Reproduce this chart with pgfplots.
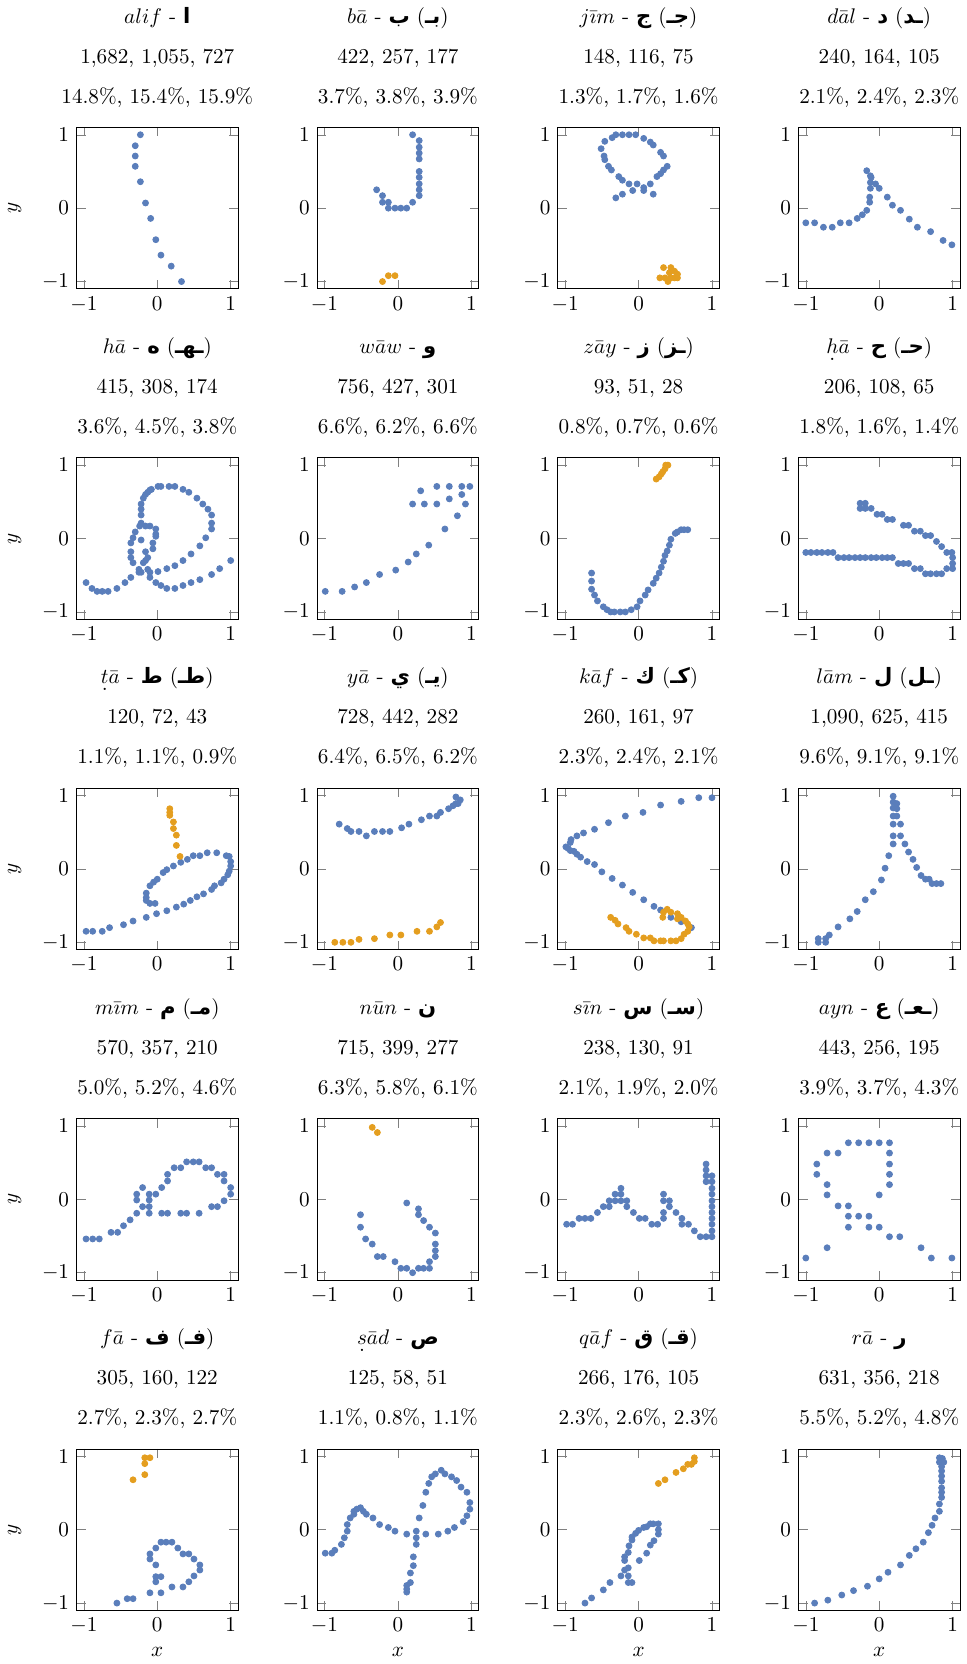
\documentclass[border={0.4pt 0pt 0pt 0pt}]{standalone}
\usepackage{fontspec}
\usepackage{pgfplots}
\pgfplotsset{compat=1.18}
\usepgfplotslibrary{groupplots}
\TeXXeTstate=1
\newfontfamily\ar[Script=Arabic]{DejaVu Sans}
\newcommand{\A}[1]{{\ar\bfseries\beginR #1\endR}}
\newcommand{\ud}[1]{\ooalign{$#1$\cr\hidewidth\smash{\raisebox{-0.75ex}{.}}\hidewidth\cr}}
\definecolor{cb}{HTML}{5A7EBB}
\definecolor{co}{HTML}{E49E1F}
\pgfplotsset{
  B/.style={only marks, mark=*, mark size=1.4pt, color=cb},
  O/.style={only marks, mark=*, mark size=1.4pt, color=co},
}
\newcommand{\T}[3]{#1\\[6.9pt]#2\\[6.9pt]#3}
\begin{document}
\begin{tikzpicture}
\begin{groupplot}[
  group style={group size=4 by 5, horizontal sep=37.4pt, vertical sep=79.8pt,
    xlabels at=edge bottom, ylabels at=edge left},
  width=76.3pt, height=76.3pt, scale only axis,
  xmin=-1.1, xmax=1.1, ymin=-1.1, ymax=1.1,
  xtick={-1,0,1}, ytick={-1,0,1},
  xlabel={$x$}, ylabel={$y$}, ylabel shift=3pt,
  title style={align=center},
]
% alif
\nextgroupplot[title={\T{$alif$ - \A{ا}}{1,682, 1,055, 727}{14.8\%, 15.4\%, 15.9\%}}]
\addplot[B] coordinates {(-0.23,1.0) (-0.30,0.85) (-0.30,0.71) (-0.30,0.57) (-0.23,0.36) (-0.16,0.07) (-0.09,-0.14) (-0.02,-0.43) (0.05,-0.64) (0.19,-0.79) (0.33,-1.0)};
% ba
\nextgroupplot[title={\T{$b\bar{a}$ - \A{ب} (\A{بـ})}{422, 257, 177}{3.7\%, 3.8\%, 3.9\%}}]
\addplot[B] coordinates {(0.20,1.0) (0.29,0.92) (0.29,0.83) (0.29,0.75) (0.29,0.67) (0.29,0.50) (0.29,0.42) (0.29,0.33) (0.29,0.25) (0.29,0.17) (0.20,0.08) (0.12,0.0) (0.04,0.0) (-0.04,0.0) (-0.13,0.0) (-0.13,0.08) (-0.21,0.08) (-0.21,0.17) (-0.29,0.25)};
\addplot[O] coordinates {(-0.21,-1.0) (-0.13,-0.92) (-0.04,-0.92)};
% jim
\nextgroupplot[title={\T{$j\bar{\imath}m$ - \A{ج} (\A{جـ})}{148, 116, 75}{1.3\%, 1.7\%, 1.6\%}}]
\addplot[B] coordinates {(-0.36,0.96) (-0.31,1.0) (-0.22,1.0) (-0.13,1.0) (-0.04,1.0) (0.07,0.95) (0.16,0.90) (0.20,0.86) (-0.46,0.91) (-0.51,0.81) (-0.47,0.71) (-0.46,0.66) (-0.41,0.57) (-0.37,0.52) (-0.27,0.43) (-0.22,0.38) (-0.13,0.33) (0.30,0.76) (0.34,0.71) (0.39,0.57) (0.34,0.52) (0.30,0.47) (0.25,0.43) (0.16,0.33) (-0.02,0.33) (0.07,0.28) (0.07,0.24) (0.20,0.19) (-0.08,0.24) (-0.22,0.19) (-0.31,0.14)};
\addplot[O] coordinates {(0.34,-0.81) (0.44,-0.81) (0.49,-0.86) (0.53,-0.90) (0.53,-0.95) (0.44,-0.95) (0.36,-0.95) (0.29,-0.95) (0.40,-1.0) (0.49,-0.95) (0.42,-0.88)};
% dal
\nextgroupplot[title={\T{$d\bar{a}l$ - \A{د} (\A{ـد})}{240, 164, 105}{2.1\%, 2.4\%, 2.3\%}}]
\addplot[B] coordinates {(-1.0,-0.20) (-0.88,-0.20) (-0.76,-0.26) (-0.64,-0.26) (-0.53,-0.20) (-0.41,-0.20) (-0.30,-0.14) (-0.23,-0.09) (-0.17,-0.03) (-0.13,0.08) (-0.13,0.15) (-0.12,0.27) (-0.12,0.35) (-0.11,0.42) (-0.17,0.51) (-0.12,0.44) (-0.05,0.33) (0.0,0.27) (0.11,0.15) (0.18,0.04) (0.29,-0.03) (0.41,-0.15) (0.52,-0.26) (0.70,-0.32) (0.87,-0.44) (0.99,-0.50)};
% ha
\nextgroupplot[title={\T{$h\bar{a}$ - \A{ه} (\A{ـهـ})}{415, 308, 174}{3.6\%, 4.5\%, 3.8\%}}]
\addplot[B] coordinates {(-0.97,-0.60) (-0.89,-0.68) (-0.82,-0.72) (-0.75,-0.72) (-0.67,-0.72) (-0.55,-0.68) (-0.44,-0.60) (-0.36,-0.53)
(-0.10,-0.53) (-0.02,-0.60) (0.05,-0.64) (0.13,-0.68) (0.24,-0.68) (0.35,-0.64) (0.46,-0.60) (0.58,-0.56) (0.74,-0.49) (0.85,-0.41) (1.0,-0.30)
(0.01,-0.45) (0.13,-0.41) (0.24,-0.37) (0.35,-0.30) (0.46,-0.21) (0.58,-0.10) (0.66,0.01) (0.74,0.13) (0.74,0.21) (0.74,0.32) (0.69,0.40) (0.62,0.47) (0.54,0.55) (0.43,0.63) (0.35,0.67) (0.24,0.71) (0.16,0.71) (0.05,0.71) (0.01,0.71) (-0.08,0.67) (-0.10,0.66) (-0.13,0.63) (-0.16,0.60) (-0.19,0.55) (-0.22,0.47) (-0.22,0.40) (-0.22,0.32)
(-0.22,0.21) (-0.24,0.17) (-0.16,0.17) (-0.10,0.17) (-0.02,0.13) (-0.02,0.06) (-0.02,0.03) (-0.06,-0.06) (-0.06,-0.14) (-0.16,-0.18) (-0.13,-0.26) (-0.16,-0.30) (-0.19,-0.33) (-0.22,-0.02) (-0.30,0.09) (-0.33,0.01) (-0.36,-0.06) (-0.36,-0.18) (-0.36,-0.26) (-0.33,-0.33) (-0.25,-0.42) (-0.25,-0.46) (-0.22,-0.46) (-0.13,-0.42) (-0.10,-0.46)};
% waw
\nextgroupplot[title={\T{$w\bar{a}w$ - \A{و}}{756, 427, 301}{6.6\%, 6.2\%, 6.6\%}}]
\addplot[B] coordinates {(-0.99,-0.72) (-0.76,-0.72) (-0.59,-0.66) (-0.43,-0.60) (-0.25,-0.49) (-0.03,-0.43) (0.14,-0.32) (0.25,-0.21) (0.42,-0.09) (0.64,0.13) (0.81,0.31) (0.92,0.47) (0.87,0.60) (0.70,0.54) (0.53,0.47) (0.36,0.47) (0.20,0.47) (0.31,0.65) (0.53,0.71) (0.70,0.71) (0.87,0.71) (0.98,0.71)};
% zay
\nextgroupplot[title={\T{$z\bar{a}y$ - \A{ز} (\A{ـز})}{93, 51, 28}{0.8\%, 0.7\%, 0.6\%}}]
\addplot[B] coordinates {(-0.64,-0.47) (-0.64,-0.58) (-0.64,-0.69) (-0.60,-0.77) (-0.56,-0.85) (-0.48,-0.93) (-0.43,-0.97) (-0.38,-1.0) (-0.33,-1.0) (-0.25,-1.0) (-0.18,-1.0) (-0.10,-0.97) (-0.02,-0.93) (0.02,-0.85) (0.09,-0.77) (0.13,-0.70) (0.20,-0.61) (0.24,-0.54) (0.28,-0.47) (0.31,-0.39) (0.34,-0.31) (0.36,-0.23) (0.39,-0.17) (0.42,-0.09) (0.44,-0.01) (0.50,0.07) (0.53,0.09) (0.58,0.12) (0.62,0.12) (0.67,0.12)};
\addplot[O] coordinates {(0.24,0.81) (0.28,0.84) (0.31,0.88) (0.33,0.91) (0.36,0.95) (0.37,1.0) (0.40,1.0)};
% Ha
\nextgroupplot[title={\T{\ud{h}$\bar{a}$ - \A{ح} (\A{حـ})}{206, 108, 65}{1.8\%, 1.6\%, 1.4\%}}]
\addplot[B] coordinates {(-0.26,0.48) (-0.19,0.48) (-0.26,0.41) (-0.19,0.41) (-0.11,0.41) (-0.03,0.33) (0.04,0.33) (0.11,0.26) (0.18,0.26) (0.33,0.18) (0.40,0.18) (0.48,0.10) (0.56,0.10) (0.63,0.04) (0.70,0.04) (0.78,-0.04) (0.85,-0.11) (0.92,-0.19) (0.99,-0.19) (1.0,-0.26) (1.0,-0.34) (1.0,-0.41) (0.92,-0.41) (0.85,-0.48) (0.78,-0.48) (0.70,-0.48) (0.63,-0.48) (0.48,-0.41) (0.56,-0.41) (0.40,-0.34) (0.33,-0.34) (0.26,-0.34) (0.18,-0.26) (0.11,-0.26) (0.04,-0.26) (-0.04,-0.26) (-0.11,-0.26) (-0.19,-0.26) (-0.26,-0.26) (-0.33,-0.26) (-0.41,-0.26) (-0.48,-0.26) (-0.56,-0.26) (-0.63,-0.19) (-0.70,-0.19) (-0.78,-0.19) (-0.85,-0.19) (-0.93,-0.19) (-1.0,-0.19)};
% Ta
\nextgroupplot[title={\T{\ud{t}$\bar{a}$ - \A{ط} (\A{طـ})}{120, 72, 43}{1.1\%, 1.1\%, 0.9\%}}]
\addplot[B] coordinates {(-0.97,-0.85) (-0.88,-0.85) (-0.75,-0.85) (-0.65,-0.80) (-0.46,-0.76) (-0.33,-0.71) (-0.15,-0.66) (-0.01,-0.61) (0.13,-0.57) (0.26,-0.52) (0.36,-0.48) (0.45,-0.43) (0.54,-0.38) (0.63,-0.34) (0.74,-0.28) (0.78,-0.23) (0.87,-0.19) (0.91,-0.14) (0.96,-0.08) (0.98,-0.03) (1.0,0.04) (1.0,0.10) (0.98,0.17) (0.94,0.18) (0.81,0.22) (0.68,0.22) (0.58,0.18) (0.49,0.18) (0.41,0.13) (0.32,0.09) (0.22,0.04) (0.13,-0.01) (0.08,-0.05) (0.0,-0.14) (-0.05,-0.18) (-0.10,-0.23) (-0.15,-0.33) (-0.15,-0.39) (-0.15,-0.43) (-0.10,-0.47) (-0.03,-0.47)};
\addplot[O] coordinates {(0.17,0.82) (0.17,0.77) (0.17,0.73) (0.22,0.64) (0.22,0.55) (0.26,0.46) (0.26,0.32) (0.31,0.17)};
% ya
\nextgroupplot[title={\T{$y\bar{a}$ - \A{ي} (\A{يـ})}{728, 442, 282}{6.4\%, 6.5\%, 6.2\%}}]
\addplot[B] coordinates {(-0.80,0.61) (-0.69,0.55) (-0.64,0.51) (-0.53,0.51) (-0.43,0.45) (-0.32,0.51) (-0.21,0.51) (-0.11,0.51) (0.05,0.56) (0.15,0.61) (0.32,0.67) (0.43,0.72) (0.53,0.72) (0.58,0.77) (0.69,0.82) (0.75,0.86) (0.79,0.89) (0.79,0.98) (0.85,0.94) (0.82,0.89)};
\addplot[O] coordinates {(-0.86,-1.0) (-0.75,-1.0) (-0.64,-1.0) (-0.53,-0.96) (-0.32,-0.95) (-0.11,-0.90) (0.04,-0.90) (0.26,-0.85) (0.43,-0.85) (0.53,-0.79) (0.58,-0.73)};
% kaf
\nextgroupplot[title={\T{$k\bar{a}f$ - \A{ك} (\A{كـ})}{260, 161, 97}{2.3\%, 2.4\%, 2.1\%}}]
\addplot[B] coordinates {(1.0,0.97) (0.82,0.97) (0.58,0.92) (0.30,0.87) (0.06,0.77) (-0.18,0.72) (-0.41,0.63) (-0.60,0.54) (-0.75,0.49) (-0.84,0.45) (-0.92,0.40) (-0.93,0.36) (-0.99,0.30) (-0.96,0.28) (-0.93,0.25) (-0.88,0.24) (-0.84,0.20) (-0.79,0.16) (-0.70,0.10) (-0.60,0.06) (-0.50,-0.04) (-0.36,-0.13) (-0.22,-0.22) (-0.08,-0.32) (0.07,-0.42) (0.21,-0.51) (0.30,-0.56) (0.44,-0.66) (0.58,-0.72) (0.72,-0.80)};
\addplot[O] coordinates {(-0.38,-0.66) (-0.32,-0.70) (-0.28,-0.75) (-0.17,-0.80) (-0.13,-0.85) (-0.03,-0.89) (0.07,-0.94) (0.16,-0.94) (0.21,-0.98) (0.30,-0.98) (0.34,-0.98) (0.44,-0.98) (0.51,-0.98) (0.58,-0.95) (0.62,-0.89) (0.67,-0.85) (0.69,-0.79) (0.67,-0.75) (0.64,-0.71) (0.58,-0.66) (0.53,-0.61) (0.44,-0.59) (0.39,-0.55) (0.34,-0.59) (0.33,-0.66) (0.53,-0.68)};
% lam
\nextgroupplot[title={\T{$l\bar{a}m$ - \A{ل} (\A{ـل})}{1,090, 625, 415}{9.6\%, 9.1\%, 9.1\%}}]
\addplot[B] coordinates {(-0.83,-1.0) (-0.83,-0.95) (-0.73,-1.0) (-0.73,-0.95) (-0.68,-0.90) (-0.56,-0.79) (-0.40,-0.68) (-0.30,-0.58) (-0.19,-0.42) (-0.08,-0.31) (0.03,-0.15) (0.08,0.01) (0.13,0.18) (0.19,0.34) (0.19,0.45) (0.19,0.61) (0.19,0.72) (0.19,0.83) (0.19,0.91) (0.19,0.99) (0.24,0.89) (0.24,0.82) (0.24,0.72) (0.29,0.61) (0.29,0.45) (0.35,0.34) (0.40,0.23) (0.46,0.13) (0.51,0.02) (0.57,-0.09) (0.63,-0.14) (0.68,-0.14) (0.72,-0.20) (0.78,-0.20) (0.84,-0.20)};
% mim
\nextgroupplot[title={\T{$m\bar{\imath}m$ - \A{م} (\A{مـ})}{570, 357, 210}{5.0\%, 5.2\%, 4.6\%}}]
\addplot[B] coordinates {(-0.97,-0.54) (-0.88,-0.54) (-0.79,-0.54) (-0.63,-0.45) (-0.54,-0.45) (-0.46,-0.36) (-0.37,-0.28) (-0.28,-0.19) (-0.28,-0.01) (-0.28,0.07) (-0.20,0.16) (-0.20,-0.10) (-0.11,0.07) (-0.11,-0.01) (-0.11,-0.10) (-0.11,-0.19) (-0.02,0.07) (0.06,0.16) (0.14,0.25) (0.14,0.34) (0.23,0.43) (0.32,0.43) (0.40,0.51) (0.49,0.51) (0.57,0.51) (0.66,0.43) (0.74,0.43) (0.82,0.34) (0.91,0.34) (0.91,0.25) (1.0,0.16) (1.0,0.07) (0.91,-0.02) (0.82,-0.10) (0.74,-0.10) (0.57,-0.19) (0.40,-0.19) (0.32,-0.19) (0.14,-0.19) (0.06,-0.19)};
% nun
\nextgroupplot[title={\T{$n\bar{u}n$ - \A{ن}}{715, 399, 277}{6.3\%, 5.8\%, 6.1\%}}]
\addplot[B] coordinates {(-0.51,-0.21) (-0.51,-0.38) (-0.44,-0.54) (-0.35,-0.61) (-0.28,-0.78) (-0.20,-0.78) (-0.04,-0.85) (0.04,-0.94) (0.12,-0.94) (0.20,-1.0) (0.28,-0.94) (0.35,-0.94) (0.43,-0.94) (0.43,-0.85) (0.51,-0.78) (0.51,-0.70) (0.51,-0.61) (0.51,-0.46) (0.43,-0.38) (0.35,-0.29) (0.28,-0.21) (0.28,-0.13) (0.12,-0.05)};
\addplot[O] coordinates {(-0.35,0.98) (-0.28,0.91)};
% sin
\nextgroupplot[title={\T{$s\bar{\imath}n$ - \A{س} (\A{سـ})}{238, 130, 91}{2.1\%, 1.9\%, 2.0\%}}]
\addplot[B] coordinates {(-0.98,-0.34) (-0.90,-0.34) (-0.81,-0.26) (-0.73,-0.26) (-0.65,-0.26) (-0.56,-0.18) (-0.48,-0.10) (-0.40,-0.10) (-0.40,-0.02) (-0.32,-0.02) (-0.32,0.07) (-0.24,-0.02) (-0.24,0.07) (-0.24,0.15) (-0.16,-0.02) (-0.16,-0.10) (-0.07,-0.18) (0.01,-0.26) (0.09,-0.26) (0.18,-0.34) (0.26,-0.34) (0.34,-0.26) (0.34,-0.18) (0.34,-0.02) (0.34,0.07) (0.42,-0.02) (0.42,-0.10) (0.51,-0.18) (0.59,-0.26) (0.59,-0.34) (0.68,-0.34) (0.76,-0.43) (0.84,-0.51) (0.92,-0.51) (1.0,-0.51) (1.0,-0.43) (1.0,-0.34) (1.0,-0.26) (1.0,-0.18) (1.0,-0.10) (1.0,-0.02) (1.0,0.07) (1.0,0.15) (1.0,0.24) (1.0,0.32) (0.92,0.48) (0.92,0.40) (0.92,0.32) (0.92,0.24)};
% ayn
\nextgroupplot[title={\T{$ayn$ - \A{ع} (\A{ـعـ})}{443, 256, 195}{3.9\%, 3.7\%, 4.3\%}}]
\addplot[B] coordinates {(-1.0,-0.80) (-0.85,0.48) (-0.85,0.34) (-0.71,0.63) (-0.56,0.63) (-0.42,0.77) (-0.28,0.77) (-0.14,0.77) (0.0,0.77) (0.14,0.77) (0.14,0.63) (0.14,0.48) (0.14,0.34) (0.14,0.20) (0.0,0.06) (-0.71,0.20) (-0.71,0.06) (-0.56,-0.09) (-0.42,-0.09) (-0.42,-0.23) (-0.28,-0.23) (-0.14,-0.23) (-0.42,-0.38) (-0.14,-0.38) (0.0,-0.38) (0.14,-0.51) (0.28,-0.51) (-0.71,-0.66) (0.57,-0.66) (0.71,-0.80) (0.99,-0.80)};
% fa
\nextgroupplot[title={\T{$f\bar{a}$ - \A{ف} (\A{فـ})}{305, 160, 122}{2.7\%, 2.3\%, 2.7\%}}]
\addplot[B] coordinates {(-0.55,-1.0) (-0.41,-0.94) (-0.33,-0.94) (-0.10,-0.86) (0.05,-0.86) (0.20,-0.78) (0.35,-0.78) (0.43,-0.71) (0.50,-0.63) (0.58,-0.55) (0.58,-0.48) (0.50,-0.40) (0.43,-0.33) (0.35,-0.33) (0.28,-0.25) (0.20,-0.17) (0.12,-0.17) (0.05,-0.17) (-0.02,-0.25) (-0.10,-0.33) (-0.10,-0.40) (-0.02,-0.48) (-0.02,-0.64) (0.05,-0.64) (-0.02,-0.71)};
\addplot[O] coordinates {(-0.33,0.68) (-0.17,0.75) (-0.17,0.90) (-0.17,0.98) (-0.10,0.98)};
% sad
\nextgroupplot[title={\T{\ud{s}$\bar{a}d$ - \A{ص}}{125, 58, 51}{1.1\%, 0.8\%, 1.1\%}}]
\addplot[B] coordinates {(-0.99,-0.32) (-0.90,-0.32) (-0.86,-0.28) (-0.77,-0.20) (-0.73,-0.11) (-0.69,-0.02) (-0.69,0.07) (-0.65,0.16) (-0.60,0.21) (-0.60,0.25) (-0.56,0.28) (-0.51,0.30) (-0.47,0.25) (-0.43,0.21) (-0.34,0.16) (-0.25,0.07) (-0.13,0.03) (-0.04,-0.02) (0.12,-0.06) (0.25,-0.02) (0.25,-0.11) (0.25,-0.20) (0.21,-0.37) (0.21,-0.49) (0.17,-0.59) (0.17,-0.72) (0.12,-0.76) (0.12,-0.81) (0.12,-0.85) (0.29,0.16) (0.34,0.33) (0.38,0.51) (0.42,0.63) (0.46,0.72) (0.51,0.76) (0.59,0.81) (0.64,0.76) (0.73,0.72) (0.80,0.67) (0.86,0.58) (0.94,0.51) (0.98,0.37) (0.98,0.28) (0.94,0.19) (0.89,0.11) (0.77,0.03) (0.68,-0.02) (0.55,-0.06) (0.38,-0.06)};
% qaf
\nextgroupplot[title={\T{$q\bar{a}f$ - \A{ق} (\A{قـ})}{266, 176, 105}{2.3\%, 2.6\%, 2.3\%}}]
\addplot[B] coordinates {(-0.73,-1.0) (-0.64,-0.93) (-0.48,-0.82) (-0.39,-0.72) (-0.24,-0.63) (-0.19,-0.55) (-0.14,-0.63) (-0.14,-0.72) (-0.09,-0.72) (-0.14,-0.52) (-0.19,-0.42) (-0.19,-0.37) (-0.14,-0.31) (-0.13,-0.22) (-0.09,-0.14) (-0.09,-0.10) (-0.04,-0.05) (0.0,-0.01) (0.07,0.03) (0.11,0.04) (0.16,0.08) (0.20,0.08) (0.27,0.08) (0.27,0.0) (0.27,-0.06) (0.21,-0.15) (0.16,-0.21) (0.11,-0.32) (0.01,-0.42)};
\addplot[O] coordinates {(0.27,0.63) (0.36,0.68) (0.51,0.78) (0.61,0.83) (0.67,0.89) (0.72,0.89) (0.76,0.93) (0.76,0.98)};
% ra
\nextgroupplot[title={\T{$r\bar{a}$ - \A{ر}}{631, 356, 218}{5.5\%, 5.2\%, 4.8\%}}]
\addplot[B] coordinates {(-0.88,-1.0) (-0.70,-0.96) (-0.51,-0.89) (-0.35,-0.83) (-0.16,-0.77) (0.0,-0.67) (0.12,-0.58) (0.29,-0.48) (0.41,-0.35) (0.50,-0.26) (0.60,-0.17) (0.67,-0.04) (0.72,0.06) (0.76,0.16) (0.82,0.25) (0.82,0.35) (0.85,0.44) (0.85,0.51) (0.85,0.57) (0.85,0.66) (0.85,0.73) (0.85,0.80) (0.85,0.86) (0.82,0.92) (0.82,0.98) (0.88,0.92) (0.86,0.97)};
\end{groupplot}
\end{tikzpicture}
\end{document}
